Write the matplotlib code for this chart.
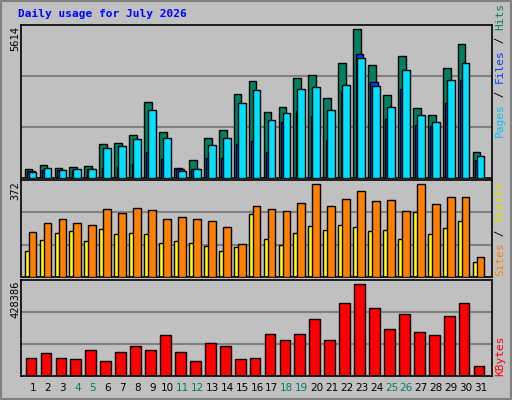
import matplotlib
matplotlib.use("Agg")
import matplotlib.pyplot as plt
from matplotlib.patches import Rectangle

days = list(range(1, 32))
hits = [328,479,365,414,452,1270,1307,1609,2852,1722,365,667,1496,1797,3154,3644,2476,2664,3757,3870,3003,4322,5614,4247,3116,4586,2626,2363,4133,5038,968]
files = [252,290,290,290,328,365,403,516,968,705,328,328,742,742,1270,1383,968,2099,2513,2325,1420,3267,4661,3606,2212,3342,1986,1948,2815,3681,667]
pages = [215,365,290,328,328,1119,1194,1458,2551,1496,252,328,1232,1496,2815,3305,2174,2438,3342,3418,2551,3493,4510,3455,2664,4058,2363,2099,3681,4322,818]
visits = [106,150,175,183,146,191,171,175,171,138,146,138,126,106,122,251,154,130,175,203,187,207,199,183,187,154,259,171,195,223,62]
sites = [179,215,231,215,207,271,255,275,267,231,239,231,223,199,134,283,273,263,299,372,283,312,344,304,308,263,372,291,320,320,82]
kbytes = [86000,105000,86000,81000,123000,72000,114000,142000,123000,189000,114000,72000,156000,138000,77000,86000,194000,166000,194000,264000,170000,339000,428386,316000,217000,288000,203000,189000,278000,339000,48000]
weekend = {4,5,11,12,18,19,25,26}

BG = "#c0c0c0"
fig = plt.figure(figsize=(5.12, 4.0), dpi=100, facecolor=BG)
W, H = 512, 400

def add_ax(top, bot):
    return fig.add_axes([21/W, (H-bot)/H, 471/W, (bot-top)/H], facecolor=BG)

xl = (1 - 12/14.93, 31 + 11/14.93)

def style(ax, ymax):
    ax.set_xlim(*xl)
    ax.set_ylim(0, ymax)
    for g in (ymax/3, 2*ymax/3):
        ax.axhline(g, color="#808080", lw=1.5, zorder=0)
    ax.set_xticks([]); ax.set_yticks([])
    for s in ax.spines.values():
        s.set_color("black"); s.set_linewidth(1.2)

ek = dict(edgecolor="black", linewidth=1, align="edge")
a1 = add_ax(25, 178)
style(a1, 5614*153/149)
a1.bar([d-0.56 for d in days], hits, width=0.52, color="#008060", zorder=2, **ek)
a1.bar([d-0.40 for d in days], files, width=0.52, color="#0040ff", zorder=3, **ek)
a1.bar([d-0.29 for d in days], pages, width=0.52, color="#00e0ff", zorder=4, **ek)

a2 = add_ax(180, 277)
style(a2, 372*96.7/92.4)
a2.bar([d-0.56 for d in days], visits, width=0.5, color="#ffff00", zorder=2, **ek)
a2.bar([d-0.29 for d in days], sites, width=0.52, color="#ff8000", zorder=3, **ek)

a3 = add_ax(280, 376)
style(a3, 428386*95.4/91.4)
a3.bar([d-0.49 for d in days], kbytes, width=0.72, color="#ff0000", zorder=2, **ek)

for d in days:
    a3.text(d, -0.13, str(d), transform=a3.get_xaxis_transform(), ha="center", va="center",
            fontsize=7.5, color="#008060" if d in weekend else "black")

mono = "DejaVu Sans Mono"
fig.text(18/W, 1-14/H, "Daily usage for July 2026", color="#0000ff", fontsize=8,
         fontweight="bold", family=mono, va="center")
for txt, ytop in (("5614", 26), ("372", 181), ("428386", 281)):
    fig.text(15/W, 1-ytop/H, txt, rotation=90, ha="center", va="top", fontsize=7.5, family=mono)

def side(parts, ybot):
    y = ybot
    for t, c in parts:
        fig.text(500/W, 1-y/H, t, rotation=90, ha="center", va="bottom", fontsize=8,
                 family=mono, color=c)
        y -= len(t)*6.2 + 2
side([("Pages", "#00c0ff"), (" / ", "black"), ("Files", "#0040ff"), (" / ", "black"), ("Hits", "#008060")], 137)
side([("Sites", "#ff8000"), (" / ", "black"), ("Visits", "#e0e000")], 276)
side([("KBytes", "#ff0000")], 376)

fig.patches.append(Rectangle((0, 0), 1, 1, transform=fig.transFigure, fill=False,
                             edgecolor="#808080", lw=3))
fig.savefig("out.png", dpi=100, facecolor=BG)
